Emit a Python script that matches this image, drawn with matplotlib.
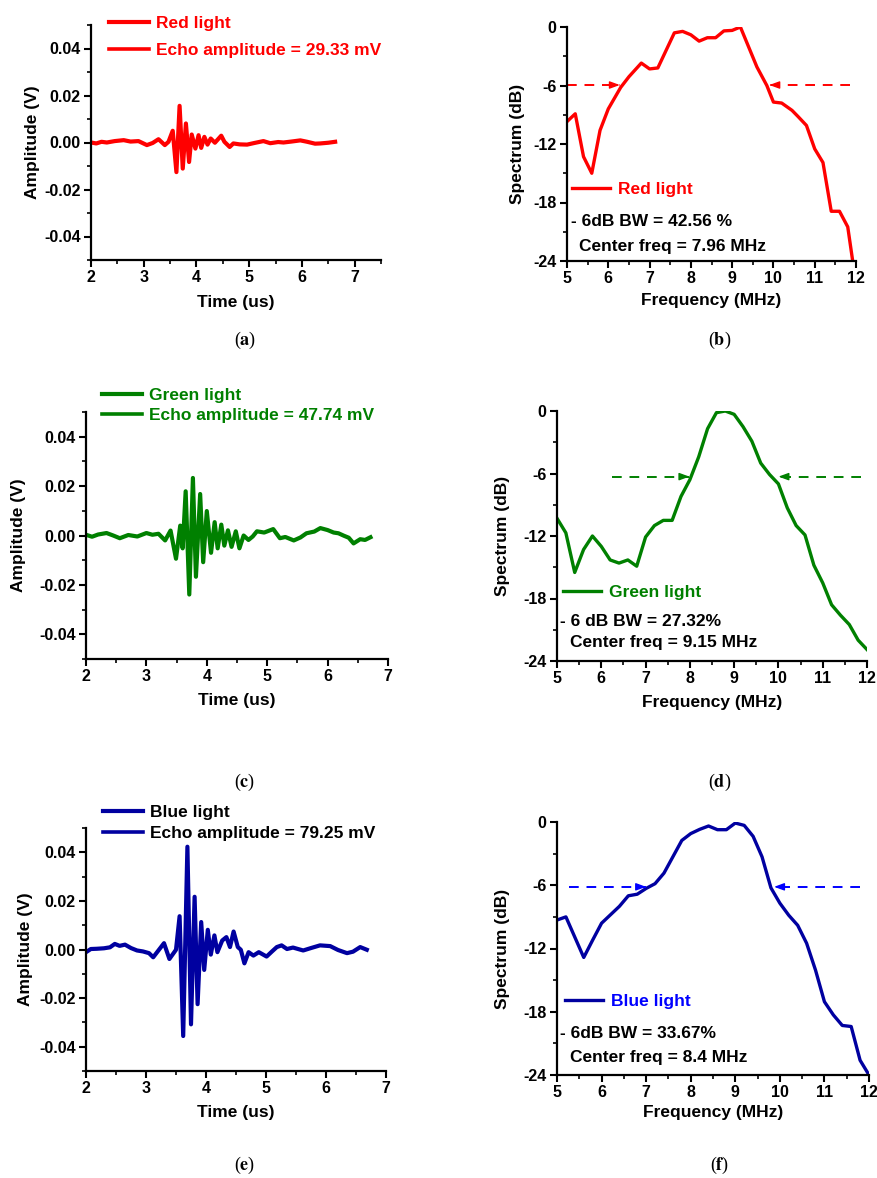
import matplotlib
matplotlib.use('Agg')
import matplotlib.pyplot as plt
from matplotlib.ticker import MultipleLocator

plt.rcParams['font.family'] = ['Liberation Sans', 'DejaVu Sans']
plt.rcParams['font.weight'] = 'bold'
plt.rcParams['axes.unicode_minus'] = False
plt.rcParams['mathtext.fontset'] = 'stix'

red_t = [2.0, 2.1, 2.2, 2.3, 2.45, 2.62, 2.75, 2.9, 3.06, 3.17, 3.28, 3.40, 3.47, 3.55, 3.62, 3.68, 3.74, 3.80, 3.86, 3.91, 3.98,
         4.04, 4.09, 4.15, 4.21, 4.27, 4.35, 4.47, 4.53, 4.63, 4.70, 4.82, 4.96, 5.1, 5.27, 5.4, 5.55, 5.65, 5.8, 5.97,
         6.1, 6.25, 6.35, 6.5, 6.63]
red_v = [0.0, -0.0004, 0.0003, 0.0, 0.0006, 0.001, 0.0004, 0.0006, -0.0011, -0.0002, 0.0014, -0.0011, 0.0003, 0.005, -0.0126, 0.0156,
         -0.0111, 0.0081, -0.0083, 0.0034, -0.0026, 0.0031, -0.0023, 0.0024, -0.0009, 0.0017, -0.0001, 0.0029, 0.0003, -0.0019,
         -0.0004, -0.0008, -0.0009, -0.0002, 0.0006, -0.0003, 0.0002, 0.0, 0.0004, 0.0009, 0.0003, -0.0005, -0.0004, -0.0001, 0.0003]

green_t = [2.0, 2.1, 2.2, 2.34, 2.45, 2.56, 2.7, 2.85, 3.0, 3.1, 3.2, 3.31, 3.40, 3.49, 3.56, 3.60, 3.65, 3.71, 3.77, 3.82, 3.89,
           3.94, 4.0, 4.07, 4.13, 4.18, 4.24, 4.29, 4.35, 4.41, 4.48, 4.54, 4.61, 4.69, 4.76, 4.83, 4.95, 5.10, 5.21, 5.3,
           5.44, 5.55, 5.65, 5.78, 5.88, 6.0, 6.10, 6.18, 6.27, 6.35, 6.43, 6.54, 6.62, 6.71]
green_v = [0.0003, -0.0005, 0.0004, 0.001, 0.0, -0.0011, 0.0002, -0.0004, 0.001, 0.0003, 0.0007, -0.002, 0.002, -0.0094, 0.004,
           -0.0052, 0.0179, -0.0239, 0.0233, -0.0167, 0.0168, -0.0108, 0.0099, -0.007, 0.0054, -0.0052, 0.0044, -0.0041, 0.0021,
           -0.0046, 0.0017, -0.0052, 0.0, -0.0018, -0.0004, 0.0017, 0.0012, 0.0026, -0.0011, -0.0006, -0.002, -0.0008, 0.0009,
           0.0016, 0.003, 0.0022, 0.0012, 0.0009, -0.0001, -0.0009, -0.0032, -0.0015, -0.0018, -0.0007]

blue_t = [2.0, 2.08, 2.18, 2.3, 2.4, 2.48, 2.56, 2.65, 2.75, 2.85, 2.95, 3.05, 3.12, 3.30, 3.39, 3.50, 3.56, 3.62, 3.69,
          3.75, 3.81, 3.86, 3.92, 3.97, 4.03, 4.08, 4.14, 4.19, 4.27, 4.34, 4.40, 4.46, 4.53, 4.58, 4.64, 4.71, 4.79,
          4.88, 5.01, 5.10, 5.18, 5.26, 5.35, 5.45, 5.52, 5.62, 5.75, 5.90, 6.07, 6.2, 6.35, 6.45, 6.57, 6.68]
blue_v = [-0.0011, 0.0002, 0.0003, 0.0005, 0.0009, 0.0023, 0.0015, 0.002, 0.0006, -0.0004, -0.0008, -0.0015, -0.0032, 0.0026,
          -0.0039, -0.0001, 0.0137, -0.0356, 0.0423, -0.0308, 0.0217, -0.0225, 0.0113, -0.0084, 0.0081, -0.0021, 0.0058, -0.0011,
          0.0037, 0.0051, 0.001, 0.0074, 0.001, -0.0001, -0.0057, -0.0011, -0.0025, -0.0011, -0.0029, -0.0008, 0.001, 0.0017,
          0.0002, 0.0008, 0.0003, -0.0004, 0.0006, 0.0017, 0.0014, -0.0002, -0.0015, -0.0009, 0.001, -0.0001]

# spectra (MHz, dB)
red_f = [5.0, 5.2, 5.4, 5.6, 5.8, 6.0, 6.3, 6.5, 6.8, 7.0, 7.2, 7.6, 7.8, 8.0, 8.2, 8.4, 8.6,
         8.8, 9.0, 9.2, 9.6, 9.84, 10.0, 10.2, 10.45, 10.6, 10.8, 11.0, 11.2, 11.4, 11.6, 11.8, 11.92]
red_db = [-9.7, -8.9, -13.3, -15.0, -10.6, -8.4, -6.2, -5.1, -3.7, -4.3, -4.2, -0.6, -0.45, -0.8, -1.45, -1.1, -1.1,
          -0.4, -0.35, 0.0, -4.1, -6.0, -7.7, -7.8, -8.55, -9.2, -10.1, -12.5, -13.9, -18.9, -18.9, -20.5, -24.0]

green_f = [5.0, 5.2, 5.4, 5.6, 5.8, 6.0, 6.2, 6.4, 6.6, 6.8, 7.0, 7.2, 7.4, 7.6, 7.8, 8.0, 8.2, 8.4,
           8.6, 8.8, 9.0, 9.2, 9.4, 9.6, 9.8, 10.0, 10.2, 10.4, 10.6, 10.8, 11.0, 11.2, 11.4, 11.6, 11.8, 12.0]
green_db = [-10.3, -11.7, -15.5, -13.3, -12.0, -13.0, -14.3, -14.6, -14.3, -14.9, -12.1, -11.0, -10.5, -10.5, -8.2, -6.6, -4.4, -1.7,
            -0.16, 0.0, -0.32, -1.5, -2.9, -5.0, -6.1, -7.0, -9.3, -11.0, -11.9, -14.8, -16.5, -18.6, -19.6, -20.5, -22.0, -22.9]

blue_f = [5.0, 5.2, 5.6, 5.8, 6.0, 6.2, 6.4, 6.6, 6.8, 7.0, 7.2, 7.4, 7.6, 7.8, 8.0, 8.2, 8.4, 8.6,
          8.8, 9.0, 9.2, 9.4, 9.6, 9.8, 10.0, 10.2, 10.4, 10.6, 10.8, 11.0, 11.2, 11.4, 11.6, 11.8, 12.0]
blue_db = [-9.3, -9.0, -12.85, -11.2, -9.6, -8.8, -8.0, -7.0, -6.85, -6.3, -5.85, -4.85, -3.3, -1.75, -1.1, -0.7, -0.38, -0.73,
           -0.73, -0.1, -0.32, -1.36, -3.3, -6.25, -7.7, -8.85, -9.8, -11.5, -14.05, -17.05, -18.3, -19.3, -19.4, -22.6, -24.0]

# -6 dB arrows: (left start, left end), (right start, right end), level
red_arrows = [(5.0, 6.28), (11.85, 9.9), -5.95]
green_arrows = [(6.25, 7.99), (11.87, 10.0), -6.3]
blue_arrows = [(5.28, 7.0), (11.8, 9.87), -6.15]

time_ticks = [2, 3, 4, 5, 6, 7]
amp_ticks = [-0.04, -0.02, 0.0, 0.02, 0.04]
amp_labels = ['-0.04', '-0.02', '0.00', '0.02', '0.04']
freq_ticks = [5, 6, 7, 8, 9, 10, 11, 12]
db_ticks = [-24, -18, -12, -6, 0]

W, H = 877, 1178
fig = plt.figure(figsize=(W / 100, H / 100), dpi=100)
TICK = 11.5
LAB = 12.5
LEG = 12.5


def rect(l, t, r, b):
    return [l / W, 1 - b / H, (r - l) / W, (b - t) / H]


def style(ax):
    for s in ['top', 'right']:
        ax.spines[s].set_visible(False)
    for s in ['left', 'bottom']:
        ax.spines[s].set_linewidth(1.6)
    ax.tick_params(which='major', direction='out', length=5, width=1.5, pad=2.5)
    ax.tick_params(which='minor', direction='out', length=3, width=1.2)


def labels(ax, xl, yl, xl_y, yl_x):
    ax.set_ylabel(yl, fontsize=LAB, fontweight='bold', va='center')
    ax.set_xlabel(xl, fontsize=LAB, fontweight='bold', va='center')
    ax.yaxis.set_label_coords(yl_x, 0.5)
    ax.xaxis.set_label_coords(0.5, xl_y)


def time_panel(box, t, v, color, textcolor, name, amp, xmax, leg_xy, lspace, yl_x, xl_y):
    ax = fig.add_axes(rect(*box))
    ax.plot(t, v, color=color, lw=3.0, label=name)
    ax.plot([], [], color=color, lw=2.6, label=amp)
    ax.set_xticks(time_ticks)
    ax.set_xticklabels([str(x) for x in time_ticks], fontsize=TICK, fontweight='bold')
    ax.set_yticks(amp_ticks)
    ax.set_yticklabels(amp_labels, fontsize=TICK, fontweight='bold')
    ax.xaxis.set_minor_locator(MultipleLocator(0.5))
    ax.yaxis.set_minor_locator(MultipleLocator(0.01))
    ax.set_xlim(2, xmax)
    ax.set_ylim(-0.05, 0.05)
    style(ax)
    labels(ax, 'Time (us)', 'Amplitude (V)', xl_y, yl_x)
    ax.legend(loc='upper left', bbox_to_anchor=leg_xy, frameon=False, borderpad=0, borderaxespad=0,
              handlelength=2.3, handletextpad=0.4, labelspacing=lspace, labelcolor=textcolor,
              prop={'size': LEG, 'weight': 'bold'})
    return ax


def spec_panel(box, f, db, color, textcolor, arrows, name, bw, cf, leg_xy, bw_xy, cf_xy, yl_x, xl_y):
    ax = fig.add_axes(rect(*box))
    ax.plot(f, db, color=color, lw=2.4, label=name)
    (l0, l1), (r0, r1), lvl = arrows
    for a, b in [(l0, l1), (r0, r1)]:
        ax.plot([a, b], [lvl, lvl], color=textcolor, lw=1.4, ls=(0, (5, 4)))
        d = 0.2 if b > a else -0.2
        ax.annotate('', xy=(b, lvl), xytext=(b - d, lvl),
                    arrowprops=dict(arrowstyle='-|>,head_length=0.6,head_width=0.22',
                                    color=textcolor, lw=1.0, shrinkA=0, shrinkB=0))
    ax.set_xlim(5, 12)
    ax.set_ylim(-24, 0)
    ax.set_xticks(freq_ticks)
    ax.set_xticklabels([str(x) for x in freq_ticks], fontsize=TICK, fontweight='bold')
    ax.set_yticks(db_ticks)
    ax.set_yticklabels([str(y) for y in db_ticks], fontsize=TICK, fontweight='bold')
    ax.xaxis.set_minor_locator(MultipleLocator(0.5))
    ax.yaxis.set_minor_locator(MultipleLocator(3))
    style(ax)
    labels(ax, 'Frequency (MHz)', 'Spectrum (dB)', xl_y, yl_x)
    ax.legend(loc='upper left', bbox_to_anchor=leg_xy, frameon=False, borderpad=0, borderaxespad=0,
              handlelength=2.2, handletextpad=0.45, labelcolor=textcolor,
              prop={'size': LEG, 'weight': 'bold'})
    ax.text(bw_xy[0], bw_xy[1], bw, transform=ax.transAxes, fontsize=LEG, fontweight='bold', va='center')
    ax.text(cf_xy[0], cf_xy[1], cf, transform=ax.transAxes, fontsize=LEG, fontweight='bold', va='center')
    return ax


time_panel((91, 25, 381, 260), red_t, red_v, '#ff0000', '#ff0000', 'Red light',
           'Echo amplitude = 29.33 mV', 7.5, (0.062, 1.038), 0.65, -0.203, -0.18)
spec_panel((567, 27, 856, 261), red_f, red_db, '#ff0000', '#ff0000', red_arrows, 'Red light',
           '- 6dB BW = 42.56 %', 'Center freq = 7.96 MHz', (0.017, 0.338), (0.014, 0.167), (0.042, 0.064),
           -0.17, -0.167)

time_panel((86, 412, 388, 659), green_t, green_v, '#008000', '#008000', 'Green light',
           'Echo amplitude = 47.74 mV', 7.0, (0.053, 1.097), 0.25, -0.225, -0.166)
spec_panel((557, 411, 867, 661), green_f, green_db, '#008000', '#008000', green_arrows, 'Green light',
           '- 6 dB BW = 27.32%', 'Center freq = 9.15 MHz', (0.019, 0.304), (0.01, 0.16), (0.042, 0.072),
           -0.177, -0.168)

time_panel((86, 828, 386, 1071), blue_t, blue_v, '#0000a0', 'black', 'Blue light',
           'Echo amplitude = 79.25 mV', 7.0, (0.057, 1.095), 0.32, -0.203, -0.169)
spec_panel((557, 822, 869, 1075), blue_f, blue_db, '#0000a0', '#0000ff', blue_arrows, 'Blue light',
           '- 6dB BW = 33.67%', 'Center freq = 8.4 MHz', (0.026, 0.32), (0.01, 0.166), (0.042, 0.071),
           -0.176, -0.15)

for lab, x, y in [('a', 245, 340), ('b', 720, 340), ('c', 245, 782),
                  ('d', 720, 782), ('e', 245, 1165), ('f', 720, 1165)]:
    fig.text(x / W, 1 - y / H, '($\\mathbf{%s}$)' % lab, fontsize=13, ha='center', va='center',
             family='Liberation Serif', fontweight='normal')

fig.savefig('out.png', dpi=100)
